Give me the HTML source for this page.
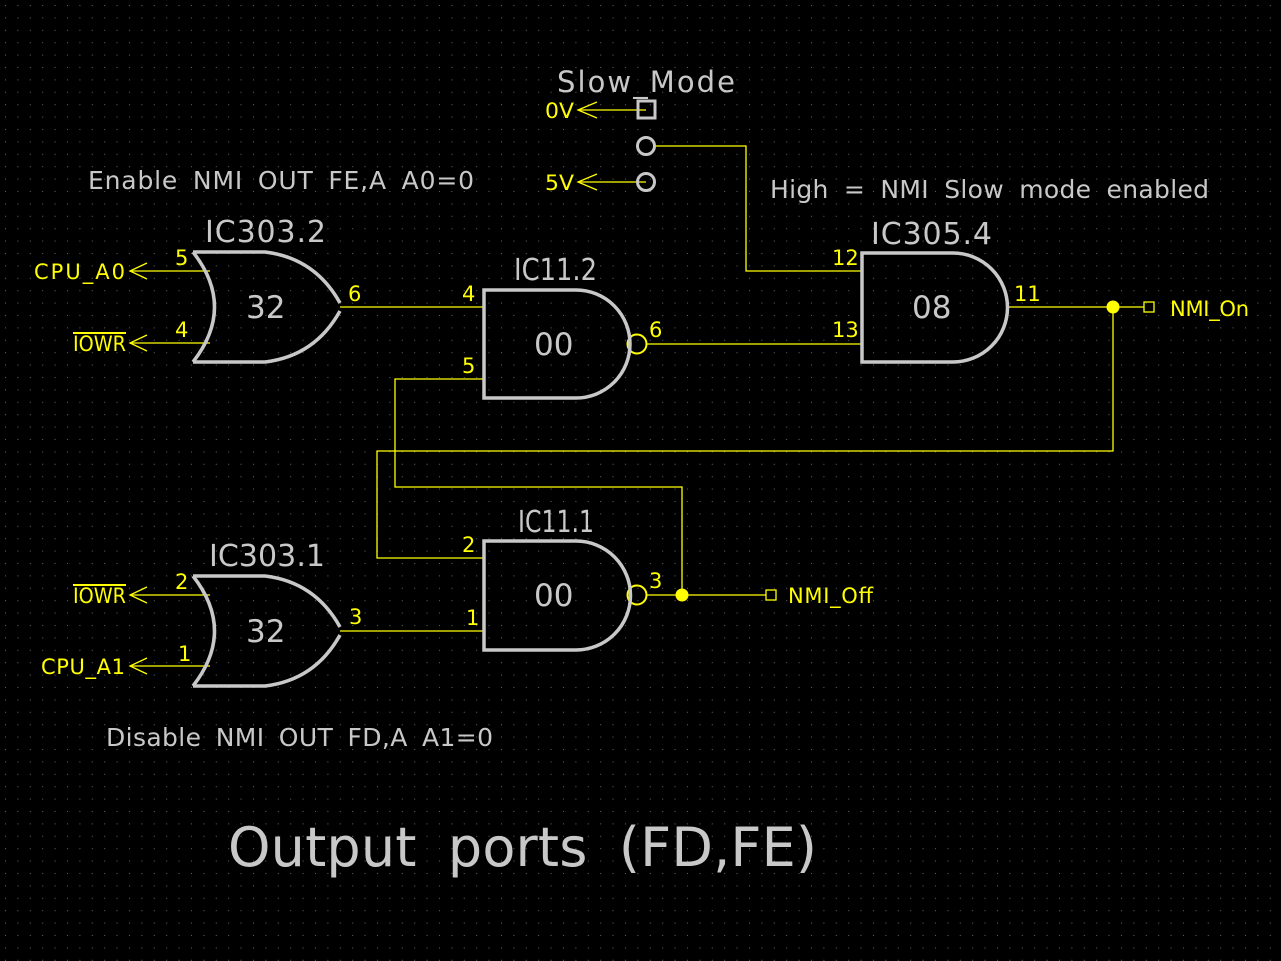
<!DOCTYPE html>
<html><head><meta charset="utf-8"><style>
html,body{margin:0;padding:0;background:#000;}
svg{display:block;}
text{font-family:"DejaVu Sans","Liberation Sans",sans-serif;}
.g{fill:#c8c8c8;}
.y{fill:#ffff00;}
</style></head><body>
<svg width="1281" height="961" viewBox="0 0 1281 961" xmlns="http://www.w3.org/2000/svg">
<defs>
<pattern id="dots" x="0" y="0" width="12.4" height="12.4" patternUnits="userSpaceOnUse">
<rect x="5" y="5" width="1" height="1" fill="#6a6a6a"/>
</pattern>
</defs>
<rect width="1281" height="961" fill="#000"/>
<rect width="1281" height="961" fill="url(#dots)"/>

<g stroke="#ffff00" stroke-width="1.3" fill="none">
<line x1="130" y1="271" x2="210" y2="271"/>
<line x1="130" y1="343" x2="210" y2="343"/>
<polyline points="147,263 130,271 147,279"/>
<polyline points="147,335 130,343 147,351"/>
<line x1="340" y1="307" x2="484" y2="307"/>
<line x1="646" y1="344" x2="862" y2="344"/>
<polyline points="655,146 746,146 746,271 862,271"/>
<line x1="578" y1="110" x2="646" y2="110"/>
<polyline points="597,102 578,110 597,118"/>
<line x1="578" y1="182" x2="646" y2="182"/>
<polyline points="597,174 578,182 597,190"/>
<line x1="1007" y1="307" x2="1144" y2="307"/>
<rect x="1144" y="302" width="10" height="10"/>
<polyline points="1113,307 1113,451 377,451 377,558 484,558"/>
<polyline points="484,379 395,379 395,487 682,487 682,595"/>
<line x1="646" y1="595" x2="766" y2="595"/>
<rect x="766" y="590" width="10" height="10"/>
<line x1="340" y1="631" x2="484" y2="631"/>
<line x1="130" y1="595" x2="210" y2="595"/>
<line x1="130" y1="666" x2="210" y2="666"/>
<polyline points="147,587 130,595 147,603"/>
<polyline points="147,658 130,666 147,674"/>
<circle cx="637" cy="344" r="9.5" stroke-width="2"/>
<circle cx="637" cy="595" r="9.5" stroke-width="2"/>
</g>
<circle cx="1113" cy="307" r="6.5" fill="#ffff00"/>
<circle cx="682" cy="595" r="6.5" fill="#ffff00"/>

<g stroke="#c8c8c8" stroke-width="3.5" fill="none">
<path d="M193,252 Q236,307 193,362"/>
<path d="M193,252 L265,252 Q315,258 340,303"/>
<path d="M193,362 L265,362 Q315,356 340,311"/>
<path d="M193,576 Q236,631 193,686"/>
<path d="M193,576 L265,576 Q315,582 340,627"/>
<path d="M193,686 L265,686 Q315,680 340,635"/>
<path d="M576,290 L484,290 L484,398 L576,398 A54,54 0 0 0 576,290 Z"/>
<path d="M576,541 L484,541 L484,650 L576,650 A54.5,54.5 0 0 0 576,541 Z"/>
<path d="M953,253 L862,253 L862,362 L953,362 A54.5,54.5 0 0 0 953,253 Z"/>
<rect x="638" y="101" width="17" height="17" stroke-width="3"/>
<circle cx="646" cy="146" r="8.5" stroke-width="3"/>
<circle cx="646" cy="182" r="8.5" stroke-width="3"/>
</g>

<g class="g">
<text x="557" y="92" font-size="29" textLength="178" lengthAdjust="spacing">Slow_Mode</text>
<text x="88" y="189" font-size="25" word-spacing="6" textLength="386" lengthAdjust="spacing">Enable NMI OUT FE,A A0=0</text>
<text x="770" y="198" font-size="25" word-spacing="7" textLength="439" lengthAdjust="spacing">High = NMI Slow mode enabled</text>
<text x="205" y="242" font-size="30" textLength="121" lengthAdjust="spacing">IC303.2</text>
<text x="514" y="280" font-size="30" textLength="83" lengthAdjust="spacingAndGlyphs">IC11.2</text>
<text x="871" y="244" font-size="30" textLength="121" lengthAdjust="spacing">IC305.4</text>
<text x="518" y="532" font-size="30" textLength="76" lengthAdjust="spacingAndGlyphs">IC11.1</text>
<text x="209" y="566" font-size="30" textLength="116" lengthAdjust="spacing">IC303.1</text>
<text x="246" y="318" font-size="31">32</text>
<text x="246" y="642" font-size="31">32</text>
<text x="534" y="355" font-size="31">00</text>
<text x="534" y="606" font-size="31">00</text>
<text x="912" y="318" font-size="31">08</text>
<text x="106" y="746" font-size="25" word-spacing="6" textLength="387" lengthAdjust="spacing">Disable NMI OUT FD,A A1=0</text>
<text x="228" y="866" font-size="54" word-spacing="14" textLength="589" lengthAdjust="spacing">Output ports (FD,FE)</text>
</g>

<g class="y" font-size="21">
<text x="545" y="118" textLength="29" lengthAdjust="spacingAndGlyphs">0V</text>
<text x="545" y="190" textLength="29" lengthAdjust="spacingAndGlyphs">5V</text>
<text x="34" y="279" textLength="91" lengthAdjust="spacing">CPU_A0</text>
<text x="73" y="351" textLength="53" lengthAdjust="spacingAndGlyphs">IOWR</text>
<rect x="73" y="332" width="53" height="2"/>
<text x="73" y="603" textLength="53" lengthAdjust="spacingAndGlyphs">IOWR</text>
<rect x="73" y="584" width="53" height="2"/>
<text x="41" y="674" textLength="84" lengthAdjust="spacing">CPU_A1</text>
<text x="175" y="265">5</text>
<text x="175" y="337">4</text>
<text x="348" y="301">6</text>
<text x="462" y="301">4</text>
<text x="462" y="373">5</text>
<text x="649" y="337">6</text>
<text x="832" y="265">12</text>
<text x="832" y="337">13</text>
<text x="1014" y="301">11</text>
<text x="1170" y="316" textLength="79" lengthAdjust="spacing">NMI_On</text>
<text x="175" y="589">2</text>
<text x="178" y="661">1</text>
<text x="349" y="624">3</text>
<text x="462" y="552">2</text>
<text x="466" y="625">1</text>
<text x="649" y="588">3</text>
<text x="788" y="603" textLength="85" lengthAdjust="spacing">NMI_Off</text>
</g>
</svg>
</body></html>
